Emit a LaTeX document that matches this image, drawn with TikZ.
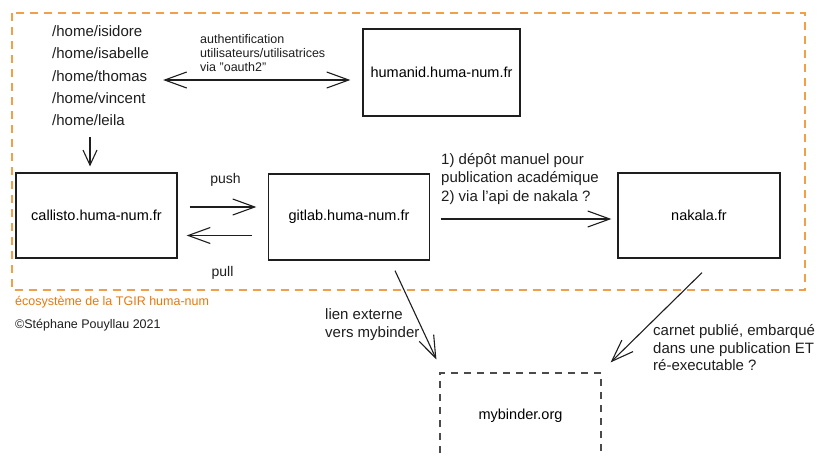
\documentclass[tikz,border=0pt]{standalone}
\usepackage{fontspec}
\setmainfont{Liberation Sans}
\usetikzlibrary{arrows.meta,calc}
\definecolor{frameorange}{HTML}{F0A04B}
\definecolor{textorange}{HTML}{E8780C}
\definecolor{ink}{HTML}{1E1E1E}
\tikzset{barbtip/.tip={Straight Barb[length=22pt,width=16pt,line width=1.1pt]}}
\begin{document}
\begin{tikzpicture}[x=1pt,y=-1pt,
  box/.style={draw=ink,line width=1.3pt,inner sep=0pt,font=\fontsize{14.5}{17}\selectfont},
  dbox/.style={draw=ink!80,line width=1.2pt,dash pattern=on 7pt off 6pt,inner sep=0pt,font=\fontsize{14.5}{17}\selectfont},
  lbl/.style={inner sep=0pt,text=ink,align=left},
  arr/.style={draw=ink,line width=1.1pt,-barbtip},
  arrboth/.style={draw=ink,line width=1.1pt,barbtip-barbtip},
  frame/.style={draw=frameorange,line width=1.2pt,dash pattern=on 8pt off 6pt}
]
\useasboundingbox (0,0) rectangle (823,456);
\fill[white] (0,0) rectangle (823,456);
\draw[frame] (12,13) rectangle (805,290);

% boxes
\node[box,minimum width=157pt,minimum height=87pt] (humanid) at (441.5,72.5) {humanid.huma-num.fr};
\node[box,minimum width=161pt,minimum height=85pt] (callisto) at (96.5,215.5) {callisto.huma-num.fr};
\node[box,minimum width=161pt,minimum height=86pt] (gitlab) at (349,217) {gitlab.huma-num.fr};
\node[box,minimum width=162pt,minimum height=85pt] (nakala) at (699,215.5) {nakala.fr};
\node[dbox,minimum width=161pt,minimum height=86pt] (mybinder) at (520.5,416) {mybinder.org};

% home list
\node[lbl,anchor=north west,font=\fontsize{15}{22.3}\selectfont] (home) at (52,25.5)
  {/home/isidore\\/home/isabelle\\/home/thomas\\/home/vincent\\/home/leila};

% labels
\node[lbl,anchor=north west,font=\fontsize{12.5}{14}\selectfont] (authlbl) at (200,34.5)
  {authentification\\utilisateurs/utilisatrices\\via "oauth2"};
\node[lbl,font=\fontsize{14}{17}\selectfont] (pushlbl) at (225.5,180) {push};
\node[lbl,font=\fontsize{14}{17}\selectfont] (pulllbl) at (222.5,273) {pull};
\node[lbl,anchor=north west,font=\fontsize{15}{18.5}\selectfont] (nakalalbl) at (441,153)
  {1) dépôt manuel pour\\publication académique\\2) via l'api de nakala ?};
\node[lbl,anchor=north west,font=\fontsize{15}{18.5}\selectfont] (lienlbl) at (325,308)
  {lien externe\\vers mybinder};
\node[lbl,anchor=north west,font=\fontsize{15}{17.5}\selectfont] (carnetlbl) at (653,324.5)
  {carnet publié, embarqué\\dans une publication ET\\ré-executable ?};
\node[lbl,anchor=west,text=textorange,font=\fontsize{12.5}{15}\selectfont] (eco) at (15,302)
  {écosystème de la TGIR huma-num};
\node[lbl,anchor=west,font=\fontsize{12.5}{15}\selectfont] (copy) at (15,325)
  {©Stéphane Pouyllau 2021};

% connectors
\path ([yshift=-7.5pt]humanid.west) coordinate (hw);
\draw[arrboth,shorten <=14pt,shorten >=12pt] (hw -| home.east) -- (hw);
\path ([xshift=-6.5pt,yshift=6pt]callisto.north) coordinate (cdown);
\draw[arr,-{Straight Barb[length=15pt,width=14pt,line width=1.1pt]},shorten <=11pt] (home.south -| cdown) -- (cdown);
\draw[arr,shorten <=12pt,shorten >=11.5pt] ([yshift=8.5pt]callisto.east) -- ([yshift=8.5pt]callisto.east -| gitlab.west);
\draw[arr,shorten <=15.5pt,shorten >=9pt] ([yshift=-20pt]callisto.east -| gitlab.west) -- ([yshift=-20pt]callisto.east);
\draw[arr,shorten <=10.5pt,shorten >=6pt] ([yshift=-2pt]gitlab.east) -- ([yshift=-2pt]gitlab.east -| nakala.west);
\draw[arr] ($(gitlab.south)+(46,10)$) -- ($(mybinder.north west)+(-3,-13)$);
\draw[arr] ($(nakala.south)+(3,14)$) -- ($(mybinder.north east)+(9,-10)$);
\end{tikzpicture}
\end{document}
